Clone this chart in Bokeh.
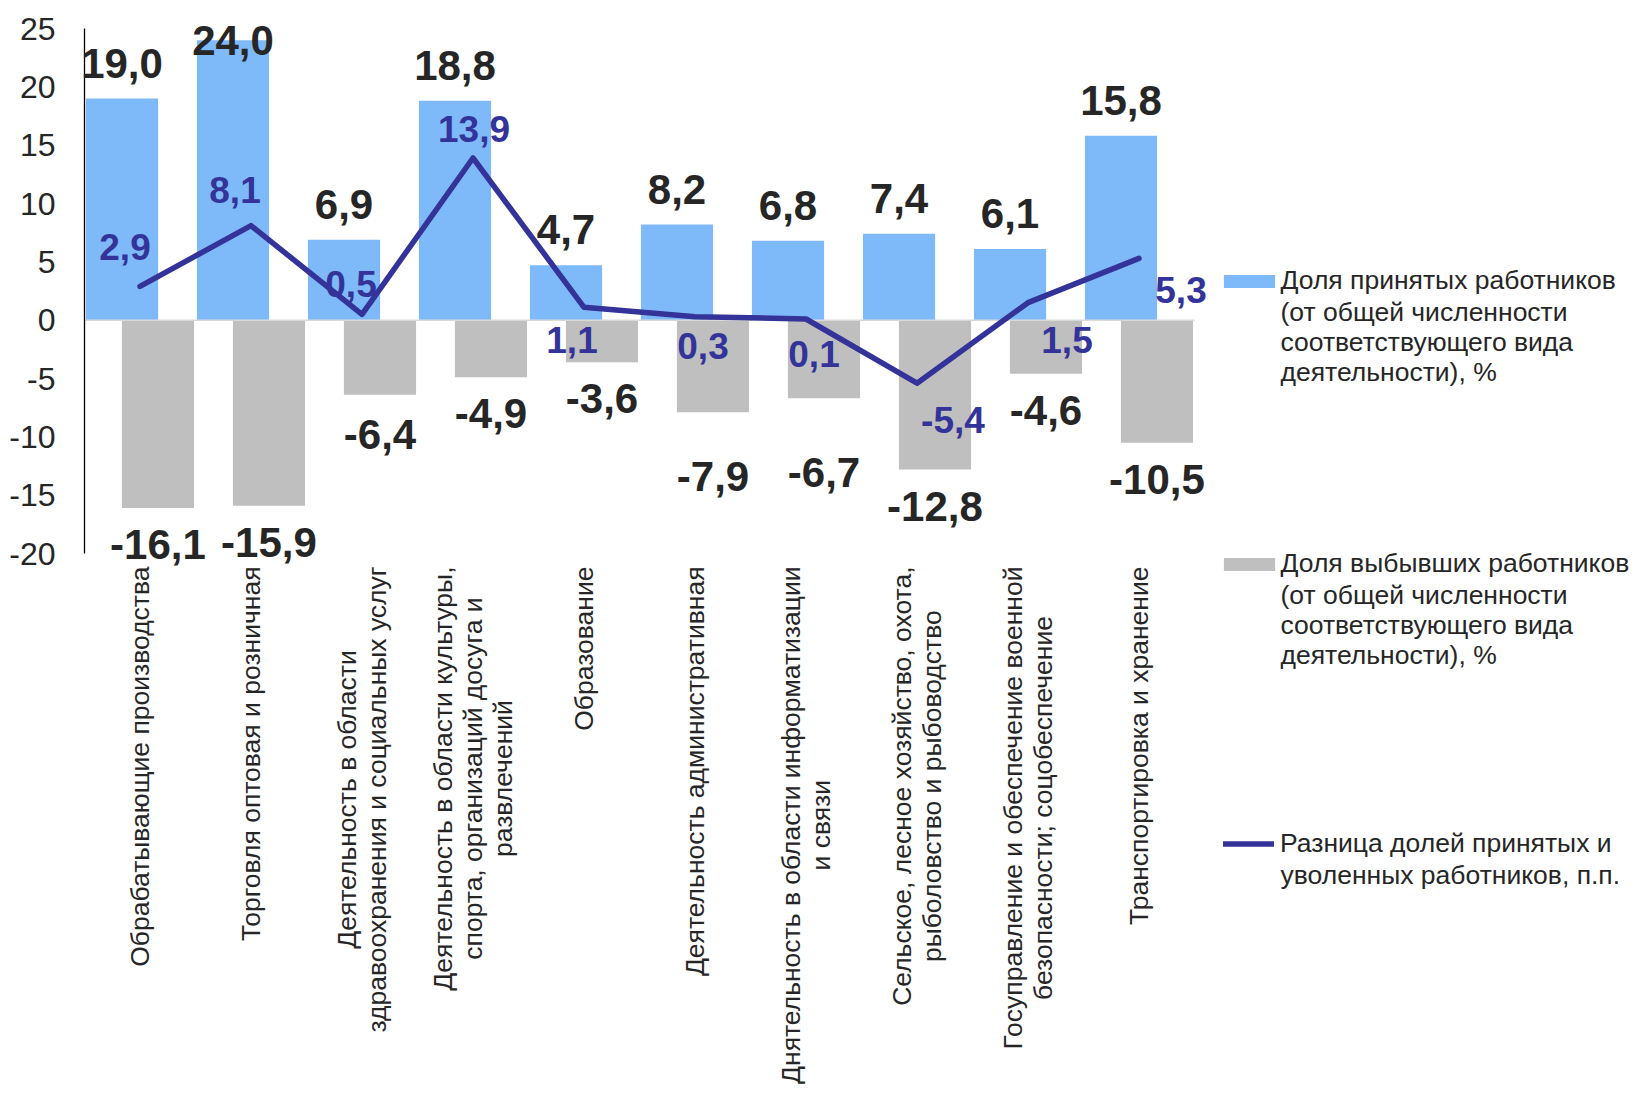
import math
from bokeh.plotting import figure
from bokeh.models import (ColumnDataSource, Range1d, FixedTicker, Legend, LegendItem,
                          LabelSet, Label)
from bokeh.core.properties import value
from bokeh.embed import file_html
from bokeh.resources import INLINE

# ---------------- data ----------------
categories = [
    "Обрабатывающие производства",
    "Торговля оптовая и розничная",
    "Деятельность в области\nздравоохранения и социальных услуг",
    "Деятельность в области культуры,\nспорта, организаций досуга и\nразвлечений",
    "Образование",
    "Деятельность административная",
    "Днятельность в области информатизации\nи связи",
    "Сельское, лесное хозяйство, охота,\nрыболовство и рыбоводство",
    "Госуправление и обеспечение военной\nбезопасности; соцобеспечение",
    "Транспортировка и хранение",
]
hired = [19.0, 24.0, 6.9, 18.8, 4.7, 8.2, 6.8, 7.4, 6.1, 15.8]
left = [-16.1, -15.9, -6.4, -4.9, -3.6, -7.9, -6.7, -12.8, -4.6, -10.5]
diff = [2.9, 8.1, 0.5, 13.9, 1.1, 0.3, 0.1, -5.4, 1.5, 5.3]
y_ticks = [-20, -15, -10, -5, 0, 5, 10, 15, 20, 25]
legend_labels = [
    "Доля принятых работников\n(от общей численности\nсоответствующего вида\nдеятельности), %",
    "Доля выбывших работников\n(от общей численности\nсоответствующего вида\nдеятельности), %",
    "Разница долей принятых и\nуволенных работников,  п.п.",
]

# ---------------- label nudges (screen px) ----------------
left_label_extra = [0, 0, 3, 0, 0, 28, 38, 0, 0, 0]
diff_label_dx = [-15, -16, -11, 1, -12, 8, 8, 36, 39, 42]
diff_label_dy = [-26, -23, -17, -16, 46, 42, 48, 50, 50, 45]

# ---------------- styles / geometry ----------------
BLUE = "#7EBAF9"
GRAY = "#BFBFBF"
NAVY = "#333399"
TXT = "#262626"
FONT = "Liberation Sans"

W, H = 1634, 1095
FL = 82                 # frame left (canvas px)
CAT_PX = 111.0          # px per category
AX_PAD = 2 / CAT_PX     # small gap so the axis line is fully visible
TOP_PX = 28             # canvas px of the top tick (25)
YMIN, YMAX = min(y_ticks), max(y_ticks)
ppu = 525 / (YMAX - YMIN)          # px per unit on y
frame_w = W - FL
x_start = -0.5 - AX_PAD
x_end = x_start + frame_w / CAT_PX
y_top = YMAX + TOP_PX / ppu
y_bot = y_top - H / ppu
OFF = 0.162
BW = 0.65

n = len(categories)
xs = list(range(n))


def fmt(v):
    return f"{v:.1f}".replace(".", ",")


def px_x(px):
    return x_start + (px - FL) / CAT_PX


def px_y(py):
    return y_top - py / ppu


p = figure(width=W, height=H, x_range=Range1d(x_start, x_end), y_range=Range1d(y_bot, y_top),
           output_backend="svg", toolbar_location=None, x_axis_location=None,
           min_border_left=FL, min_border_right=0, min_border_top=0, min_border_bottom=0)
p.outline_line_color = None
p.xgrid.visible = False
p.ygrid.visible = False
p.background_fill_color = "white"

src = ColumnDataSource(dict(
    xb=[x - OFF for x in xs],
    xg=[x + OFF for x in xs],
    x=xs,
    hired=hired,
    left=left,
    diff=diff,
))

r_h = p.vbar(x="xb", top="hired", bottom=0, width=BW, source=src,
             fill_color=BLUE, line_color=None)
r_l = p.vbar(x="xg", top=0, bottom="left", width=BW, source=src,
             fill_color=GRAY, line_color=None)
# zero line across the category area
p.line(x=[-0.5, n - 0.5], y=[0, 0], line_color="#D9D9D9", line_width=1.5)
# value-axis line (from lowest to highest tick)
p.line(x=[-0.5, -0.5], y=[YMIN, YMAX], line_color="black", line_width=1.3)
r_d = p.line(x="x", y="diff", source=src, line_color=NAVY, line_width=5.5,
             line_cap="round", line_join="round")

# ---- data labels ----
clamp_top = YMAX - 2.3
hired_lbl = ColumnDataSource(dict(
    x=[x - OFF for x in xs],
    y=[min(v + 21 / ppu, clamp_top) for v in hired],
    t=[fmt(v) for v in hired],
))
left_lbl = ColumnDataSource(dict(
    x=[x + OFF for x in xs],
    y=[v - (51 + e) / ppu for v, e in zip(left, left_label_extra)],
    t=[fmt(v) for v in left],
))
diff_lbl = ColumnDataSource(dict(
    x=[x + dx / CAT_PX for x, dx in zip(xs, diff_label_dx)],
    y=[v - dy / ppu for v, dy in zip(diff, diff_label_dy)],
    t=[fmt(v) for v in diff],
))
for s, size, col in [(hired_lbl, "42px", TXT), (left_lbl, "42px", TXT), (diff_lbl, "37px", NAVY)]:
    ls = LabelSet(x="x", y="y", text="t", source=s, text_align="center",
                  text_baseline="alphabetic", text_font=value(FONT), text_font_style="bold",
                  text_font_size=value(size), text_color=col)
    p.add_layout(ls)

# ---- value axis (labels only; line drawn above) ----
yax = p.yaxis[0]
yax.ticker = FixedTicker(ticks=y_ticks)
yax.major_label_overrides = {t: str(t) for t in y_ticks}
yax.axis_line_color = None
yax.major_tick_line_color = None
yax.major_tick_out = 0
yax.major_tick_in = 0
yax.minor_tick_line_color = None
yax.minor_tick_out = 0
yax.major_label_standoff = 27
yax.major_label_text_font = FONT
yax.major_label_text_font_size = "32px"
yax.major_label_text_color = TXT

# ---- category labels (rotated, lines centred, top-anchored below the value range) ----
cat_top = YMIN - 13 / ppu
for i, c in enumerate(categories):
    p.add_layout(Label(x=i, y=cat_top, text=c, angle=math.pi / 2,
                       text_align="center", anchor="center_right",
                       text_font=FONT, text_font_size="26.5px", text_color=TXT,
                       text_line_height=1.0))

# ---- legends ----
LINE_H = 31
leg_first_line_center = [281, 564, 844]     # canvas px of each entry's first line
glyph_x = 1223                               # canvas px of visible legend glyph left edge
text_x = 1280                                # canvas px where legend text starts
for k, (lab, rend, yc) in enumerate(zip(legend_labels, [r_h, r_l, r_d], leg_first_line_center)):
    lines = lab.split("\n")
    item_h = 30
    is_bar = k < 2
    gw = 64 if is_bar else 51                # bar swatches are drawn at 80% of the glyph box
    gh = 16 if is_bar else 13
    gx = glyph_x - (gw - 51) / 2
    leg = Legend(items=[LegendItem(label=lines[0], renderers=[rend])],
                 location=(gx - FL, H - (yc + item_h / 2)),
                 padding=0, margin=0, spacing=0, border_line_color=None,
                 background_fill_alpha=0, label_standoff=int(round(text_x - gx - gw)),
                 glyph_width=gw, glyph_height=gh, label_height=item_h,
                 label_text_font=FONT, label_text_font_size="26.5px",
                 label_text_color=TXT)
    p.add_layout(leg)
    if len(lines) > 1:
        p.add_layout(Label(x=px_x(text_x), y=px_y(yc + LINE_H / 2), text="\n".join(lines[1:]),
                           text_align="left", text_baseline="top",
                           text_font=FONT, text_font_size="26.5px", text_color=TXT,
                           text_line_height=1.0))

open("out.html", "w").write(file_html(p, INLINE))
